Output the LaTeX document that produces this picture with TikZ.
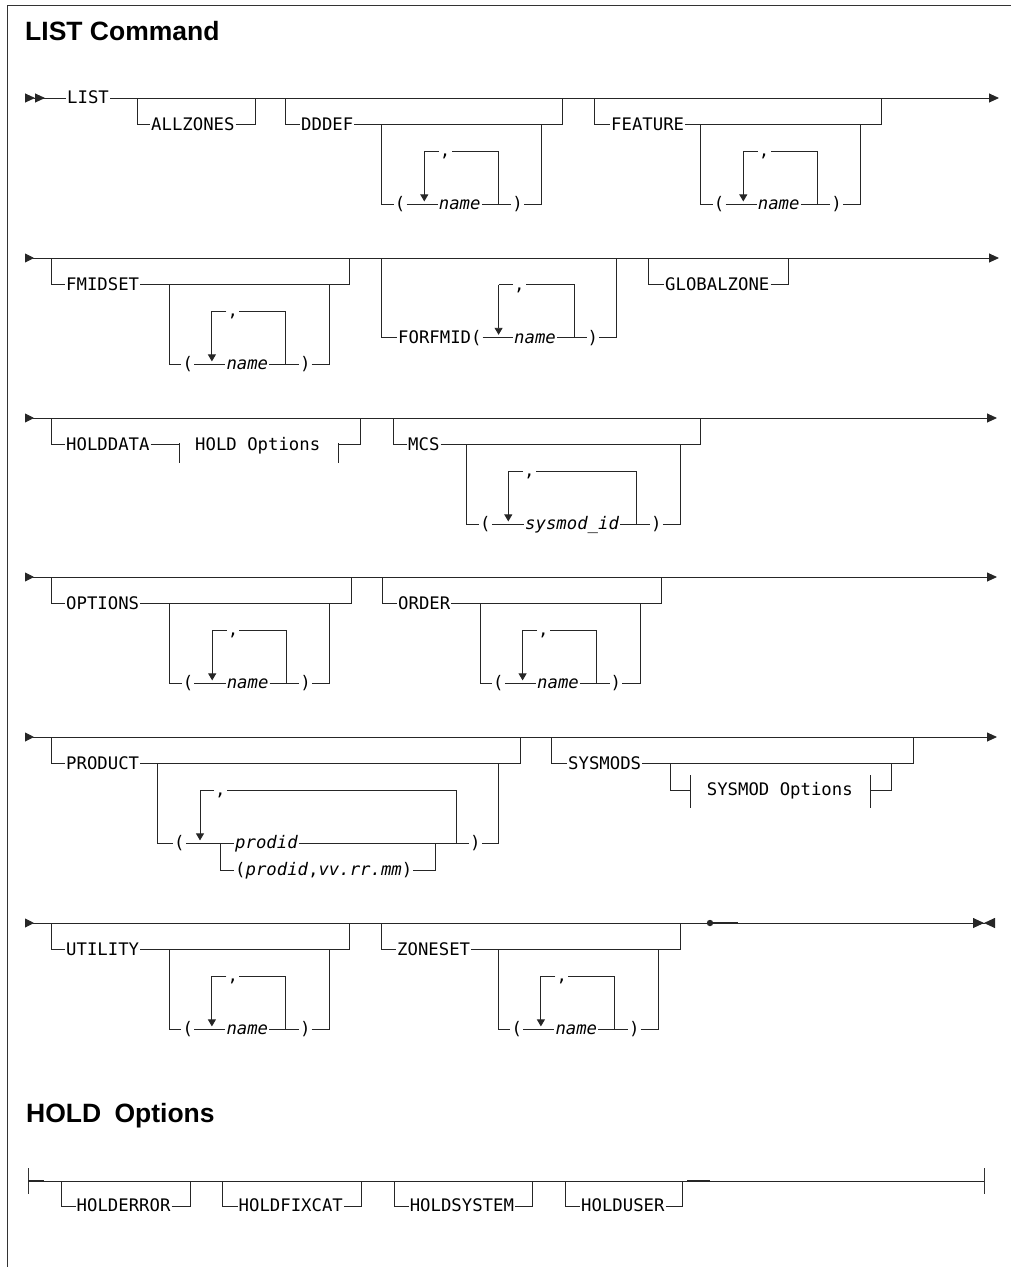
\documentclass[tikz,border=0pt]{standalone}
\usepackage{fontspec}
\newfontfamily\railfont{DejaVu Sans Mono}
\newfontfamily\headfont{Liberation Sans}
\usetikzlibrary{arrows.meta}

% (name,...) 重复列表块: #1 前缀, #2 内框左 x, #3 分支线 y
\newcommand{\namelist}[3]{%
  \coordinate (#1-tl) at (#2,#3);
  \coordinate (#1-bl) at (#2,#3+79.8);
  \coordinate (#1-tr) at (#2+160,#3);
  \coordinate (#1-br) at (#2+160,#3+79.8);
  \coordinate (#1-lt) at (#2+42.6,#3+26.6);
  \coordinate (#1-lb) at (#2+42.6,#3+79.8);
  \coordinate (#1-rt) at (#2+116.6,#3+26.6);
  \coordinate (#1-rb) at (#2+116.6,#3+79.8);
  \node[kw] (#1-open) at (#2+12,#3+79.8) {(};
  \node[kw] (#1-sep) at (#2+57,#3+26.6) {,};
  \node[var] (#1-name) at (#2+56,#3+79.8) {name};
  \node[kw] (#1-close) at (#2+129.5,#3+79.8) {)};
  \draw[rail] (#1-tl) -- (#1-bl) -- (#1-open) -- (#1-name) -- (#1-close) -- (#1-br) -- (#1-tr);
  \draw[rail] (#1-rb) -- (#1-rt) -- (#1-sep) -- (#1-lt);
  \draw[rail, backarrow] (#1-lt) -- (#1-lb);
}

\begin{document}
\begin{tikzpicture}[
  x=1pt, y=-1pt,
  rail/.style={line width=0.9pt, black!85},
  border/.style={line width=0.8pt, black!80},
  heavy/.style={line width=2.4pt, black!85},
  kw/.style={anchor=west, inner xsep=1pt, inner ysep=0pt, text height=13pt,
             text depth=2pt, font=\railfont\fontsize{17.3}{20}\selectfont},
  var/.style={kw, font=\railfont\itshape\fontsize{17.3}{20}\selectfont},
  title/.style={anchor=base west, inner sep=0pt,
                font=\headfont\bfseries\fontsize{26.5}{30}\selectfont},
  railend/.style={-{Triangle[length=10pt,width=9pt]}},
  railstart/.style={{Triangle[reversed,length=9pt,width=9pt]}-},
  railboth/.style={{Triangle[reversed,length=9pt,width=9pt]}-{Triangle[length=10pt,width=9pt]}},
  backarrow/.style={-{Triangle[length=7pt,width=8pt]}, shorten >=3pt},
]
\useasboundingbox (0,0) rectangle (1011,1267);

% ---- 边框与标题 ----
\coordinate (fr-bl) at (7,1267);
\coordinate (fr-tl) at (7,5);
\coordinate (fr-tr) at (1011,5);
\draw[border] (fr-bl) -- (fr-tl) -- (fr-tr);
\node[title] (head1) at (25,40) {LIST Command};
\node[title] (head2) at (26,1122) {HOLD\enspace Options};

% ---- 第一行 ----
\coordinate (r1-start) at (25,98);
\node[kw] (list) at (66,98) {LIST};
\coordinate (r1-end) at (999,98);
\draw[rail, {Triangle[reversed,length=10pt,width=9pt]Triangle[reversed,length=10pt,width=9pt]}-] (r1-start) -- (list);
\draw[rail, railend] (list) -- (r1-end);

\coordinate (az-l) at (137,98);
\coordinate (az-bl) at (137,124.6);
\node[kw] (allzones) at (150,124.6) {ALLZONES};
\coordinate (az-br) at (255,124.6);
\coordinate (az-r) at (255,98);
\draw[rail] (az-l) -- (az-bl) -- (allzones) -- (az-br) -- (az-r);

\coordinate (dd-l) at (285,98);
\coordinate (dd-bl) at (285,124.6);
\node[kw] (dddef) at (300,124.6) {DDDEF};
\coordinate (dd-br) at (562.3,124.6);
\coordinate (dd-r) at (562.3,98);
\draw[rail] (dd-l) -- (dd-bl) -- (dddef) -- (dd-br) -- (dd-r);
\namelist{ddn}{381.7}{124.6}

\coordinate (fe-l) at (594,98);
\coordinate (fe-bl) at (594,124.6);
\node[kw] (feature) at (610,124.6) {FEATURE};
\coordinate (fe-br) at (881.7,124.6);
\coordinate (fe-r) at (881.7,98);
\draw[rail] (fe-l) -- (fe-bl) -- (feature) -- (fe-br) -- (fe-r);
\namelist{fen}{700.7}{124.6}

% ---- 第二行 ----
\coordinate (r2-start) at (25,258);
\coordinate (r2-end) at (999,258);
\draw[rail, railboth] (r2-start) -- (r2-end);

\coordinate (fm-l) at (51.7,258);
\coordinate (fm-bl) at (51.7,284.6);
\node[kw] (fmidset) at (65,284.6) {FMIDSET};
\coordinate (fm-br) at (349.3,284.6);
\coordinate (fm-r) at (349.3,258);
\draw[rail] (fm-l) -- (fm-bl) -- (fmidset) -- (fm-br) -- (fm-r);
\namelist{fmn}{169.3}{284.6}

\coordinate (ff-l) at (381.7,258);
\coordinate (ff-bl) at (381.7,337.8);
\node[kw] (forfmid) at (397,337.8) {FORFMID(};
\coordinate (ff-lt) at (498.6,284.6);
\coordinate (ff-lb) at (498.6,337.8);
\node[kw] (ff-sep) at (513,284.6) {,};
\node[var] (ff-name) at (513,337.8) {name};
\coordinate (ff-rt) at (574.3,284.6);
\coordinate (ff-rb) at (574.3,337.8);
\node[kw] (ff-close) at (586.5,337.8) {)};
\coordinate (ff-br) at (616.8,337.8);
\coordinate (ff-r) at (616.8,258);
\draw[rail] (ff-l) -- (ff-bl) -- (forfmid) -- (ff-name) -- (ff-close) -- (ff-br) -- (ff-r);
\draw[rail] (ff-rb) -- (ff-rt) -- (ff-sep) -- (ff-lt);
\draw[rail, backarrow] (ff-lt) -- (ff-lb);

\coordinate (gz-l) at (648,258);
\coordinate (gz-bl) at (648,284.6);
\node[kw] (globalzone) at (664,284.6) {GLOBALZONE};
\coordinate (gz-br) at (788,284.6);
\coordinate (gz-r) at (788,258);
\draw[rail] (gz-l) -- (gz-bl) -- (globalzone) -- (gz-br) -- (gz-r);

% ---- 第三行 ----
\coordinate (r3-start) at (25,418);
\coordinate (r3-end) at (997,418);
\draw[rail, railboth] (r3-start) -- (r3-end);

\coordinate (hd-l) at (51.7,418);
\coordinate (hd-bl) at (51.7,444.6);
\node[kw] (holddata) at (65,444.6) {HOLDDATA};
\coordinate (hd-f1) at (179,444.6);
\coordinate (hd-f1t) at (179,443);
\coordinate (hd-f1b) at (179,462.6);
\node[kw] (holdref) at (194,444.6) {HOLD Options};
\coordinate (hd-f2) at (338.3,444.6);
\coordinate (hd-f2t) at (338.3,443);
\coordinate (hd-f2b) at (338.3,462.6);
\coordinate (hd-br) at (360,444.6);
\coordinate (hd-r) at (360,418);
\draw[rail] (hd-l) -- (hd-bl) -- (holddata) -- (hd-f1);
\draw[rail] (hd-f1t) -- (hd-f1b);
\draw[rail] (hd-f2t) -- (hd-f2b);
\draw[rail] (hd-f2) -- (hd-br) -- (hd-r);

\coordinate (mc-l) at (393.3,418);
\coordinate (mc-bl) at (393.3,444.6);
\node[kw] (mcs) at (407,444.6) {MCS};
\coordinate (mc-br) at (700.7,444.6);
\coordinate (mc-r) at (700.7,418);
\draw[rail] (mc-l) -- (mc-bl) -- (mcs) -- (mc-br) -- (mc-r);
\coordinate (mc-tl) at (466.7,444.6);
\coordinate (mc-bll) at (466.7,524.4);
\node[kw] (mc-open) at (479,524.4) {(};
\coordinate (mc-lt) at (508.3,471.2);
\coordinate (mc-lb) at (508.3,524.4);
\node[kw] (mc-sep) at (523,471.2) {,};
\node[var] (mc-name) at (524,524.4) {sysmod\_id};
\coordinate (mc-rt) at (636.7,471.2);
\coordinate (mc-rb) at (636.7,524.4);
\node[kw] (mc-close) at (650,524.4) {)};
\coordinate (mc-brr) at (680,524.4);
\coordinate (mc-tr) at (680,444.6);
\draw[rail] (mc-tl) -- (mc-bll) -- (mc-open) -- (mc-name) -- (mc-close) -- (mc-brr) -- (mc-tr);
\draw[rail] (mc-rb) -- (mc-rt) -- (mc-sep) -- (mc-lt);
\draw[rail, backarrow] (mc-lt) -- (mc-lb);

% ---- 第四行 ----
\coordinate (r4-start) at (25,577);
\coordinate (r4-end) at (997,577);
\draw[rail, railboth] (r4-start) -- (r4-end);

\coordinate (op-l) at (51.7,577);
\coordinate (op-bl) at (51.7,603.6);
\node[kw] (options) at (65,603.6) {OPTIONS};
\coordinate (op-br) at (351.3,603.6);
\coordinate (op-r) at (351.3,577);
\draw[rail] (op-l) -- (op-bl) -- (options) -- (op-br) -- (op-r);
\namelist{opn}{169.6}{603.6}

\coordinate (or-l) at (382.7,577);
\coordinate (or-bl) at (382.7,603.6);
\node[kw] (order) at (397,603.6) {ORDER};
\coordinate (or-br) at (661,603.6);
\coordinate (or-r) at (661,577);
\draw[rail] (or-l) -- (or-bl) -- (order) -- (or-br) -- (or-r);
\namelist{orn}{480}{603.6}

% ---- 第五行 ----
\coordinate (r5-start) at (25,737);
\coordinate (r5-end) at (997,737);
\draw[rail, railboth] (r5-start) -- (r5-end);

\coordinate (pr-l) at (51.7,737);
\coordinate (pr-bl) at (51.7,763.6);
\node[kw] (product) at (65,763.6) {PRODUCT};
\coordinate (pr-br) at (520,763.6);
\coordinate (pr-r) at (520,737);
\draw[rail] (pr-l) -- (pr-bl) -- (product) -- (pr-br) -- (pr-r);
\coordinate (pr-tl) at (157.3,763.6);
\coordinate (pr-bll) at (157.3,843.4);
\node[kw] (pr-open) at (173,843.4) {(};
\coordinate (pr-lt) at (200,790.2);
\coordinate (pr-lb) at (200,843.4);
\node[kw] (pr-sep) at (214,790.2) {,};
\coordinate (pr-cl) at (220,843.4);
\coordinate (pr-cb) at (220,870);
\node[var] (prodid) at (234,843.4) {prodid};
\node[kw] (prodver) at (234,870) {(\textit{prodid},\textit{vv.rr.mm})};
\coordinate (pr-cr) at (435,843.4);
\coordinate (pr-crb) at (435,870);
\coordinate (pr-rt) at (456,790.2);
\coordinate (pr-rb) at (456,843.4);
\node[kw] (pr-close) at (469,843.4) {)};
\coordinate (pr-brr) at (498.3,843.4);
\coordinate (pr-tr) at (498.3,763.6);
\draw[rail] (pr-tl) -- (pr-bll) -- (pr-open) -- (prodid) -- (pr-close) -- (pr-brr) -- (pr-tr);
\draw[rail] (pr-cl) -- (pr-cb) -- (prodver) -- (pr-crb) -- (pr-cr);
\draw[rail] (pr-rb) -- (pr-rt) -- (pr-sep) -- (pr-lt);
\draw[rail, backarrow] (pr-lt) -- (pr-lb);

\coordinate (sy-l) at (551.7,737);
\coordinate (sy-bl) at (551.7,763.6);
\node[kw] (sysmods) at (567,763.6) {SYSMODS};
\coordinate (sy-br) at (913.3,763.6);
\coordinate (sy-r) at (913.3,737);
\draw[rail] (sy-l) -- (sy-bl) -- (sysmods) -- (sy-br) -- (sy-r);
\coordinate (sy-tl) at (670,763.6);
\coordinate (sy-bll) at (670,790.2);
\coordinate (sy-f1) at (690,790.2);
\coordinate (sy-f1t) at (690,775);
\coordinate (sy-f1b) at (690,808);
\node[kw] (sysref) at (705.7,790.2) {SYSMOD Options};
\coordinate (sy-f2) at (870.7,790.2);
\coordinate (sy-f2t) at (870.7,775);
\coordinate (sy-f2b) at (870.7,808);
\coordinate (sy-brr) at (891.7,790.2);
\coordinate (sy-tr) at (891.7,763.6);
\draw[rail] (sy-tl) -- (sy-bll) -- (sy-f1);
\draw[rail] (sy-f1t) -- (sy-f1b);
\draw[rail] (sy-f2t) -- (sy-f2b);
\draw[rail] (sy-f2) -- (sy-brr) -- (sy-tr);

% ---- 第六行 ----
\coordinate (r6-start) at (25,923);
\coordinate (r6-dot) at (710,923);
\coordinate (r6-thk) at (737.7,923);
\coordinate (r6-end) at (995,923);
\draw[rail, railstart] (r6-start) -- (r6-dot);
\fill[black!85] (r6-dot) circle (3.2pt);
\draw[heavy] (r6-dot) -- (r6-thk);
\draw[rail, -{Triangle[length=11pt,width=10pt]Triangle[reversed,length=11pt,width=10pt]}] (r6-thk) -- (r6-end);

\coordinate (ut-l) at (51.7,923);
\coordinate (ut-bl) at (51.7,949.6);
\node[kw] (utility) at (65,949.6) {UTILITY};
\coordinate (ut-br) at (349.3,949.6);
\coordinate (ut-r) at (349.3,923);
\draw[rail] (ut-l) -- (ut-bl) -- (utility) -- (ut-br) -- (ut-r);
\namelist{utn}{169.3}{949.6}

\coordinate (zs-l) at (381.7,923);
\coordinate (zs-bl) at (381.7,949.6);
\node[kw] (zoneset) at (396,949.6) {ZONESET};
\coordinate (zs-br) at (680,949.6);
\coordinate (zs-r) at (680,923);
\draw[rail] (zs-l) -- (zs-bl) -- (zoneset) -- (zs-br) -- (zs-r);
\namelist{zsn}{498.3}{949.6}

% ---- HOLD Options ----
\coordinate (ho-s) at (28,1181);
\coordinate (ho-st) at (28,1168);
\coordinate (ho-sb) at (28,1194);
\coordinate (ho-s2) at (44,1181);
\coordinate (ho-m1) at (687,1181);
\coordinate (ho-m2) at (710,1181);
\coordinate (ho-e) at (984,1181);
\coordinate (ho-et) at (984,1168);
\coordinate (ho-eb) at (984,1194);
\draw[border] (ho-st) -- (ho-sb);
\draw[border] (ho-et) -- (ho-eb);
\draw[rail] (ho-s) -- (ho-e);
\draw[heavy] (ho-s) -- (ho-s2);
\draw[heavy] (ho-m1) -- (ho-m2);

\coordinate (he-l) at (61.6,1181);
\coordinate (he-bl) at (61.6,1206);
\node[kw] (holderror) at (75.5,1206) {HOLDERROR};
\coordinate (he-br) at (190,1206);
\coordinate (he-r) at (190,1181);
\draw[rail] (he-l) -- (he-bl) -- (holderror) -- (he-br) -- (he-r);

\coordinate (hf-l) at (222,1181);
\coordinate (hf-bl) at (222,1206);
\node[kw] (holdfixcat) at (237.5,1206) {HOLDFIXCAT};
\coordinate (hf-br) at (361,1206);
\coordinate (hf-r) at (361,1181);
\draw[rail] (hf-l) -- (hf-bl) -- (holdfixcat) -- (hf-br) -- (hf-r);

\coordinate (hs-l) at (394,1181);
\coordinate (hs-bl) at (394,1206);
\node[kw] (holdsystem) at (408.6,1206) {HOLDSYSTEM};
\coordinate (hs-br) at (532.7,1206);
\coordinate (hs-r) at (532.7,1181);
\draw[rail] (hs-l) -- (hs-bl) -- (holdsystem) -- (hs-br) -- (hs-r);

\coordinate (hu-l) at (565.8,1181);
\coordinate (hu-bl) at (565.8,1206);
\node[kw] (holduser) at (580,1206) {HOLDUSER};
\coordinate (hu-br) at (682,1206);
\coordinate (hu-r) at (682,1181);
\draw[rail] (hu-l) -- (hu-bl) -- (holduser) -- (hu-br) -- (hu-r);

\end{tikzpicture}
\end{document}
